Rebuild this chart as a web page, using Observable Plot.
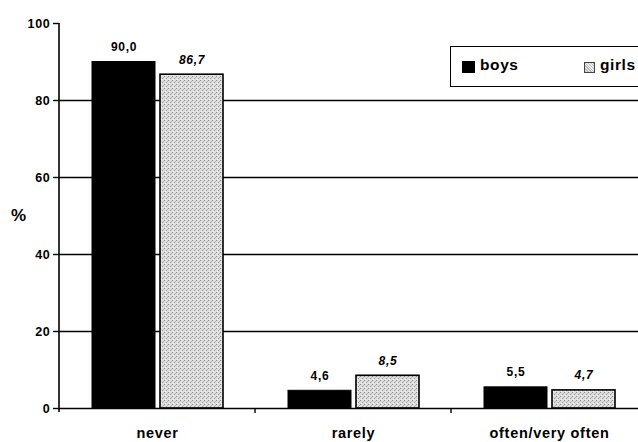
<!DOCTYPE html>
<html>
<head>
<meta charset="utf-8">
<script src="https://cdn.jsdelivr.net/npm/d3@7"></script>
<script src="https://cdn.jsdelivr.net/npm/@observablehq/plot@0.6"></script>
<style>
  html, body { margin: 0; padding: 0; background: #fff; }
  #wrap { position: relative; width: 638px; height: 442px; overflow: hidden; font-family: Arial, "Liberation Sans", sans-serif; }
  #wrap svg { max-width: none !important; }
  #wrap svg text { letter-spacing: 0.7px; }
  #pct { position: absolute; left: 11px; top: 206px; font-size: 17px; font-weight: bold; }
  #legend { position: absolute; left: 450px; top: 46px; width: 220px; height: 41px; border: 1.5px solid #000; background: #fff; box-sizing: border-box; font-weight: bold; font-size: 15.5px; }
  #legend .sw { position: absolute; width: 13px; height: 12px; box-sizing: border-box; }
  #legend .lb { position: absolute; top: 9px; letter-spacing: 0.6px; }
</style>
</head>
<body>
<div id="wrap">
  <div id="chart"></div>
  <div id="pct">%</div>
  <div id="legend">
    <div class="sw" style="left:11px;top:14px;background:#000;"></div>
    <div class="lb" style="left:29px;">boys</div>
    <div class="sw" style="left:133px;top:15px;width:11px;height:11px;border:1px solid #444;background:repeating-linear-gradient(45deg,#bbb 0 1px,#eee 1px 2px);"></div>
    <div class="lb" style="left:149px;">girls</div>
  </div>
</div>
<script>
const categories = ["never", "rarely", "often/very often"];
const groups = ["boys", "girls"];
const boysValues = [90.0, 4.6, 5.5];
const girlsValues = [86.7, 8.5, 4.7];
const yTicks = [0, 20, 40, 60, 80, 100];
const gridValues = [20, 40, 60, 80];

const data = [];
categories.forEach((c, i) => {
  data.push({category: c, group: "boys", value: boysValues[i]});
  data.push({category: c, group: "girls", value: girlsValues[i]});
});
const fmt = v => v.toFixed(1).replace(".", ",");

const plot = Plot.plot({
  width: 647,
  height: 442,
  marginLeft: 59,
  marginRight: 0,
  marginTop: 23,
  marginBottom: 34,
  style: {fontFamily: "Arial, 'Liberation Sans', sans-serif", fontWeight: "bold", color: "#000", background: "#fff", maxWidth: "none"},
  fx: {domain: categories, padding: 0},
  x: {domain: groups, paddingInner: 0.08, paddingOuter: 0.48, axis: null},
  y: {domain: [0, 100], axis: null},
  marks: [
    Plot.ruleY(gridValues, {stroke: "#000", strokeWidth: 1.4}),
    Plot.barY(data.filter(d => d.group === "boys"), {fx: "category", x: "group", y: "value", fill: "#000", stroke: "#000", strokeWidth: 1}),
    Plot.barY(data.filter(d => d.group === "girls"), {fx: "category", x: "group", y: "value", fill: "url(#stip)", stroke: "#000", strokeWidth: 1.6}),
    Plot.ruleY([0], {stroke: "#000", strokeWidth: 1.6}),
    Plot.text(data.filter(d => d.group === "boys"), {fx: "category", x: "group", y: "value", text: d => fmt(d.value), dy: -11, lineAnchor: "bottom", fontSize: 12, fontWeight: "bold", fill: "#000"}),
    Plot.text(data.filter(d => d.group === "girls"), {fx: "category", x: "group", y: "value", text: d => fmt(d.value), dy: -11, lineAnchor: "bottom", fontSize: 12, fontWeight: "bold", fontStyle: "italic", fill: "#000"}),
    Plot.axisY({ticks: yTicks, tickSize: 6, tickPadding: 3, fontSize: 12.5, fontWeight: "bold", label: null, stroke: "#000", strokeWidth: 1.4}),
    Plot.axisFx({anchor: "bottom", tickSize: 0, tickPadding: 19, fontSize: 14.5, fontWeight: "bold", label: null})
  ]
});

// pattern for girls bars
const svg = d3.select(plot);
const defs = svg.insert("defs", ":first-child");
const pat = defs.append("pattern").attr("id", "stip").attr("patternUnits", "userSpaceOnUse").attr("width", 4).attr("height", 4);
pat.append("rect").attr("width", 4).attr("height", 4).attr("fill", "#dedede");
pat.append("rect").attr("x", 0).attr("y", 0).attr("width", 1).attr("height", 1).attr("fill", "#8a8a8a");
pat.append("rect").attr("x", 2).attr("y", 2).attr("width", 1).attr("height", 1).attr("fill", "#9a9a9a");
pat.append("rect").attr("x", 3).attr("y", 1).attr("width", 1).attr("height", 1).attr("fill", "#b5b5b5");
pat.append("rect").attr("x", 1).attr("y", 3).attr("width", 1).attr("height", 1).attr("fill", "#f6f6f6");

const ys = plot.scale("y");
const fxs = plot.scale("fx");
const x0 = fxs.apply(categories[0]);
const yTop = ys.apply(100), yBase = ys.apply(0);
svg.append("line").attr("x1", x0).attr("x2", x0).attr("y1", yTop).attr("y2", yBase + 4).attr("stroke", "#000").attr("stroke-width", 1.6);
categories.slice(1).forEach(c => {
  const xb = fxs.apply(c);
  svg.append("line").attr("x1", xb).attr("x2", xb).attr("y1", yBase).attr("y2", yBase + 5).attr("stroke", "#000").attr("stroke-width", 1.4);
});

document.getElementById("chart").appendChild(plot);
</script>
</body>
</html>
